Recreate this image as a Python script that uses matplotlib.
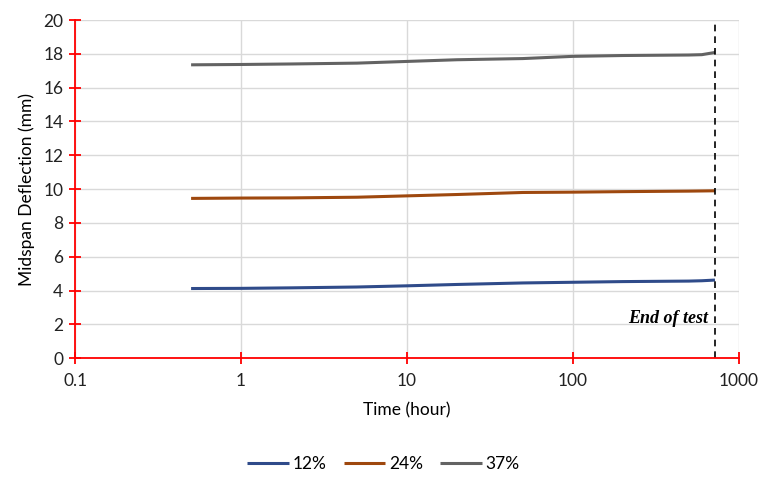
import matplotlib

matplotlib.use("Agg")

import matplotlib.pyplot as plt  # noqa: E402
from matplotlib.ticker import FixedLocator, FixedFormatter  # noqa: E402

# Time (hour) and midspan deflection (mm) per load level
TIME = [0.5, 1, 2, 5, 10, 20, 50, 100, 200, 500, 600, 720]
DEFL_12 = [4.12, 4.13, 4.16, 4.21, 4.28, 4.36, 4.45, 4.49, 4.53, 4.56, 4.58, 4.62]
DEFL_24 = [9.45, 9.47, 9.48, 9.52, 9.60, 9.68, 9.80, 9.82, 9.85, 9.88, 9.89, 9.90]
DEFL_37 = [17.35, 17.37, 17.40, 17.45, 17.55, 17.65, 17.72, 17.85, 17.90, 17.93, 17.95, 18.08]
LABELS = ["12%", "24%", "37%"]
COLORS = ["#2F4B8A", "#9E480E", "#636363"]
END_OF_TEST = 720

X_TICKS = [0.1, 1, 10, 100, 1000]
X_TICK_LABELS = ["0.1", "1", "10", "100", "1000"]
Y_TICKS = list(range(0, 21, 2))

plt.rcParams["font.family"] = ["Lato", "DejaVu Sans"]

fig = plt.figure(figsize=(7.67, 4.88), dpi=100)
ax = fig.add_axes([0.098, 0.266, 0.865, 0.693])

for ys, lab, col in zip([DEFL_12, DEFL_24, DEFL_37], LABELS, COLORS):
    ax.plot(TIME, ys, color=col, linewidth=2.2, label=lab, solid_capstyle="butt")

ax.axvline(END_OF_TEST, color="black", linestyle=(0, (4, 3)), linewidth=1.2)
ax.text(END_OF_TEST * 0.91, 2.35, "End of test", ha="right", va="center",
        fontsize=13, fontstyle="italic", fontweight="bold",
        family=["Liberation Serif", "DejaVu Serif"])

ax.set_xscale("log")
ax.set_xlim(0.1, 1000)
ax.set_ylim(0, 20)
ax.xaxis.set_major_locator(FixedLocator(X_TICKS))
ax.xaxis.set_major_formatter(FixedFormatter(X_TICK_LABELS))
ax.xaxis.set_minor_locator(FixedLocator([]))
ax.set_yticks(Y_TICKS)

ax.grid(True, color="#d9d9d9", linewidth=1.0)
ax.set_axisbelow(True)

for side in ["top", "right"]:
    ax.spines[side].set_visible(False)
for side in ["left", "bottom"]:
    ax.spines[side].set_color("red")
    ax.spines[side].set_linewidth(1.3)
ax.tick_params(axis="both", direction="inout", length=9, width=1.3, color="red",
               labelsize=12.5, labelcolor="#222222", pad=4)
ax.tick_params(axis="x", pad=6)

ax.set_xlabel("Time (hour)", fontsize=12.5, labelpad=10)
ax.set_ylabel("Midspan Deflection (mm)", fontsize=12.5, labelpad=6)

fig.legend(loc="lower center", ncol=3, frameon=False, fontsize=12.5,
           bbox_to_anchor=(0.5, 0.0), handlelength=2.4, columnspacing=1.0,
           handletextpad=0.2)

fig.savefig("out.png", dpi=100)
